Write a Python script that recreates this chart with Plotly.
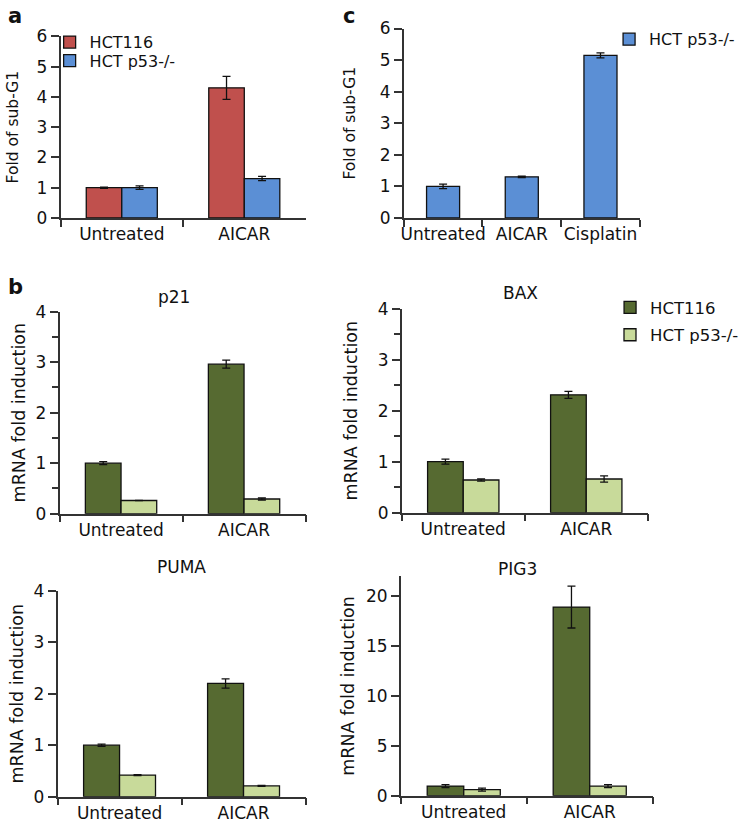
import plotly.graph_objects as go

W, H = 744, 835

# panel a: fold of sub-G1
a_categories = ["Untreated", "AICAR"]
a_hct116 = [1.0, 4.3]
a_hct116_err = [0.02, 0.38]
a_p53 = [1.0, 1.3]
a_p53_err = [0.06, 0.07]

# panel c: HCT p53-/- only
c_categories = ["Untreated", "AICAR", "Cisplatin"]
c_p53 = [1.0, 1.3, 5.15]
c_p53_err = [0.07, 0.02, 0.08]

# panel b: mRNA fold induction
b_categories = ["Untreated", "AICAR"]
p21_hct116 = [1.0, 2.96]
p21_hct116_err = [0.03, 0.08]
p21_p53 = [0.26, 0.29]
p21_p53_err = [0.0, 0.02]

bax_hct116 = [1.0, 2.31]
bax_hct116_err = [0.05, 0.07]
bax_p53 = [0.64, 0.66]
bax_p53_err = [0.02, 0.06]

puma_hct116 = [1.0, 2.2]
puma_hct116_err = [0.02, 0.09]
puma_p53 = [0.42, 0.21]
puma_p53_err = [0.01, 0.01]

pig3_hct116 = [0.97, 18.9]
pig3_hct116_err = [0.15, 2.1]
pig3_p53 = [0.62, 0.97]
pig3_p53_err = [0.15, 0.15]

RED = "#c0504d"
BLUE = "#5b8fd5"
DARK = "#566a31"
LIGHT = "#c8da9a"
AXIS = "#333333"
FONT = "DejaVu Sans"


def xd(x0, x1):
    return [x0 / W, x1 / W]


def yd(top, bottom):
    return [1 - bottom / H, 1 - top / H]


def bar(x, y, err, color, name, n, offset, width, **kw):
    return go.Bar(
        x=x, y=y, name=name,
        xaxis="x" + ("" if n == 1 else str(n)),
        yaxis="y" + ("" if n == 1 else str(n)),
        offset=offset, width=width,
        marker=dict(color=color, line=dict(color="#111111", width=1.3)),
        error_y=dict(type="data", array=err, color="#111111", thickness=1.3, width=4),
        **kw,
    )


fig = go.Figure()

# a
fig.add_trace(bar(a_categories, a_hct116, a_hct116_err, RED, "HCT116", 1, -0.29, 0.29, legend="legend"))
fig.add_trace(bar(a_categories, a_p53, a_p53_err, BLUE, "HCT p53-/-", 1, 0, 0.29, legend="legend4"))
# c
fig.add_trace(bar(c_categories, c_p53, c_p53_err, BLUE, "HCT p53-/-", 2, -0.21, 0.42, legend="legend2"))

# b panels
genes = [
    (3, p21_hct116, p21_hct116_err, p21_p53, p21_p53_err),
    (4, bax_hct116, bax_hct116_err, bax_p53, bax_p53_err),
    (5, puma_hct116, puma_hct116_err, puma_p53, puma_p53_err),
    (6, pig3_hct116, pig3_hct116_err, pig3_p53, pig3_p53_err),
]
for n, hv, he, pv, pe in genes:
    first = n == 3
    fig.add_trace(bar(b_categories, hv, he, DARK, "HCT116", n, -0.29, 0.29,
                      legend="legend3", legendgroup="hct116", showlegend=first))
    fig.add_trace(bar(b_categories, pv, pe, LIGHT, "HCT p53-/-", n, 0, 0.29,
                      legend="legend5", legendgroup="p53", showlegend=first))

yline = dict(showline=True, linecolor=AXIS, linewidth=1.5, ticks="outside", tickcolor=AXIS,
             tickwidth=1.5, ticklen=8, showgrid=False, zeroline=False,
             tickfont=dict(size=17, color="#111"), fixedrange=True)


def xaxis(dom, n_cat, anchor):
    return dict(domain=dom, anchor=anchor, type="category", range=[-0.5, n_cat - 0.5],
                showline=True, linecolor=AXIS, linewidth=1.5, ticks="outside", tickson="boundaries",
                tickcolor=AXIS, tickwidth=1.5, ticklen=7, tickangle=0, showgrid=False, zeroline=False,
                tickfont=dict(size=17, color="#111"), fixedrange=True)


def leg(x, y, size=16):
    return dict(x=x / W, y=1 - y / H, xanchor="left", yanchor="middle", font=dict(size=size),
                bgcolor="rgba(0,0,0,0)")


mrna = dict(text="mRNA fold induction", font=dict(size=17.5, color="#111"))

fig.update_layout(
    width=W, height=H,
    margin=dict(l=0, r=0, t=0, b=0),
    paper_bgcolor="white", plot_bgcolor="white",
    font=dict(family=FONT, color="#111"),
    barmode="overlay",
    xaxis=xaxis(xd(58, 305), 2, "y"),
    yaxis=dict(yline, domain=yd(27, 213), anchor="x", range=[0, 6], dtick=1,
               title=dict(text="Fold of sub-G1", font=dict(size=15.5), standoff=14)),
    xaxis2=xaxis(xd(404, 642), 3, "y2"),
    yaxis2=dict(yline, domain=yd(19, 213), anchor="x2", range=[0, 6], dtick=1,
                title=dict(text="Fold of sub-G1", font=dict(size=15.5), standoff=20)),
    xaxis3=xaxis(xd(57, 305), 2, "y3"),
    yaxis3=dict(yline, domain=yd(309, 516), anchor="x3", range=[0, 4], dtick=1,
                minor=dict(dtick=0.5, ticks="outside", ticklen=6, tickcolor=AXIS, tickwidth=1.5),
                title=dict(mrna, standoff=5)),
    xaxis4=xaxis(xd(402, 650), 2, "y4"),
    yaxis4=dict(yline, domain=yd(306, 515), anchor="x4", range=[0, 4], dtick=1,
                minor=dict(dtick=0.5, ticks="outside", ticklen=6, tickcolor=AXIS, tickwidth=1.5),
                title=dict(mrna, standoff=16)),
    xaxis5=xaxis(xd(55, 305), 2, "y5"),
    yaxis5=dict(yline, domain=yd(595, 806), anchor="x5", range=[0, 4], dtick=1,
                title=dict(mrna, standoff=5)),
    xaxis6=xaxis(xd(401, 655), 2, "y6"),
    yaxis6=dict(yline, domain=yd(580, 805), anchor="x6", range=[0, 22], tickvals=[0, 5, 10, 15, 20],
                title=dict(mrna, standoff=7)),
    legend=leg(47, 33),
    legend4=leg(47, 52),
    legend2=leg(611, 30),
    legend3=leg(612, 305, 16.5),
    legend5=leg(612, 333, 16.5),
    showlegend=True,
)

labels = [("a", 3, 20), ("c", 341, 20), ("b", 3, 298)]
for t, x, y in labels:
    fig.add_annotation(text="<b>%s</b>" % t, x=x / W, y=1 - y / H, xref="paper", yref="paper",
                       xanchor="left", yanchor="bottom", showarrow=False, font=dict(size=21, color="#111"))

titles = [("p21", 172, 294), ("BAX", 522, 290), ("PUMA", 180, 571), ("PIG3", 519, 573)]
for t, x, y in titles:
    fig.add_annotation(text=t, x=x / W, y=1 - y / H, xref="paper", yref="paper",
                       xanchor="center", yanchor="middle", showarrow=False, font=dict(size=17, color="#111"))

fig.write_html("out.html", config={"displayModeBar": False},
               post_script="document.body.style.margin='0';")
